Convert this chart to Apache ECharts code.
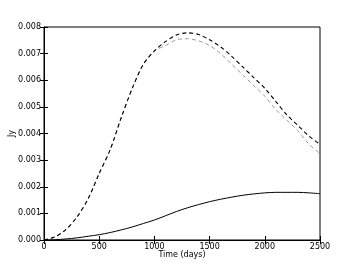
<!DOCTYPE html>
<html><head><meta charset="utf-8">
<script src="https://cdn.jsdelivr.net/npm/echarts@6/dist/echarts.min.js"></script>
<style>html,body{margin:0;padding:0;background:#fff}#c{width:356px;height:267px}</style>
</head><body><div id="c"></div>
<script>
const days = [0,100,200,300,400,500,600,700,800,900,1000,1100,1200,1300,1400,1500,1600,1700,1800,1900,2000,2100,2200,2300,2400,2500];
const solidJy = [0,0.00001,0.00004,0.00008,0.00014,0.0002,0.00028,0.00038,0.00049,0.00062,0.00075,0.00091,0.00107,0.00121,0.00133,0.00144,0.00153,0.00161,0.00168,0.00173,0.00177,0.00179,0.00179,0.00179,0.00177,0.00174];
const dashBlackJy = [0,0.00012,0.0004,0.00087,0.00155,0.0025,0.0034,0.0046,0.0057,0.0066,0.0071,0.00745,0.0077,0.00778,0.00772,0.00752,0.00725,0.0069,0.0065,0.0061,0.0057,0.0052,0.0047,0.0043,0.0039,0.0036];
const dashGrayJy = [0,0.00012,0.0004,0.00087,0.00155,0.0025,0.0034,0.0046,0.0057,0.0066,0.0071,0.0073,0.00752,0.00756,0.00748,0.0073,0.007,0.0066,0.0062,0.0058,0.0054,0.0049,0.0045,0.0041,0.0036,0.00325];
const xTicks = [0,500,1000,1500,2000,2500];
const yTicks = [0,0.001,0.002,0.003,0.004,0.005,0.006,0.007,0.008];

const font = 'DejaVu Sans';
const pair = a => days.map((d,i)=>[d,a[i]]);
const chart = echarts.init(document.getElementById('c'));
const tick = {show:true, inside:true, length:4, lineStyle:{color:'#000', width:1}};
chart.setOption({
  animation:false,
  grid:{left:44, right:36, top:27, bottom:27, show:true, borderColor:'#000', borderWidth:1, containLabel:false, outerBoundsMode:'none'},
  xAxis:[{type:'value', min:0, max:2500, interval:500, position:'bottom',
    name:'Time (days)', nameLocation:'middle', nameGap:11, nameMoveOverlap:false,
    nameTextStyle:{fontFamily:font, fontSize:8, color:'#000'},
    axisLine:{show:true, lineStyle:{color:'#000'}}, axisTick:tick, splitLine:{show:false},
    axisLabel:{fontFamily:font, fontSize:8, color:'#000', margin:3, formatter:v=>xTicks.includes(v)?String(v):''}},
    {type:'value', min:0, max:2500, interval:500, position:'top',
    axisLine:{show:false}, axisTick:tick, splitLine:{show:false}, axisLabel:{show:false}}],
  yAxis:[{type:'value', min:0, max:0.008, interval:0.001, position:'left',
    name:'Jy', nameLocation:'middle', nameGap:28, nameRotate:90, nameMoveOverlap:false,
    nameTextStyle:{fontFamily:font, fontSize:8, color:'#000'},
    axisLine:{show:true, lineStyle:{color:'#000'}}, axisTick:tick, splitLine:{show:false},
    axisLabel:{fontFamily:font, fontSize:8, color:'#000', margin:3, formatter:v=>{const t=yTicks.find(y=>Math.abs(y-v)<1e-9);return t===undefined?'':t.toFixed(3);}}},
    {type:'value', min:0, max:0.008, interval:0.001, position:'right',
    axisLine:{show:false}, axisTick:tick, splitLine:{show:false}, axisLabel:{show:false}}],
  series:[
    {type:'line', data:pair(dashGrayJy), smooth:0.3, symbol:'none', lineStyle:{color:'#9a9a9a', width:1, type:[4,3]}},
    {type:'line', data:pair(dashBlackJy), smooth:0.3, symbol:'none', lineStyle:{color:'#000', width:1.1, type:[4,3]}},
    {type:'line', data:pair(solidJy), smooth:0.3, symbol:'none', lineStyle:{color:'#000', width:1}}
  ]
});
</script></body></html>
